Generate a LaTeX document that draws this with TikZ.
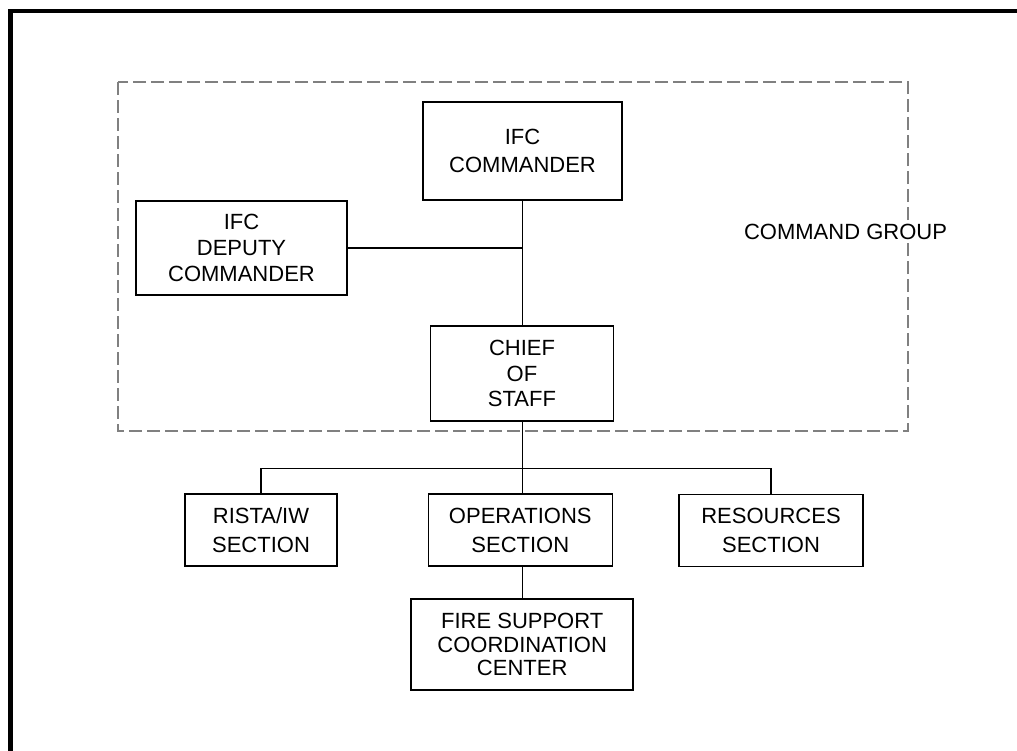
\documentclass[tikz,border=0pt]{standalone}
\usepackage{fontspec}
\setmainfont{Liberation Sans}
\begin{document}
\begin{tikzpicture}[x=0.75pt,y=-0.75pt,
  box/.style={draw=black,line width=1.1pt,inner sep=0pt,align=center,
    font=\fontsize{16.5}{#1}\selectfont},
  link/.style={draw=black,line width=1pt},
  grp/.style={draw=black!50,line width=1.1pt,dash pattern=on 9.75pt off 3.75pt},
  frame/.style={draw=black,line width=3.4pt}]
\useasboundingbox (0,0) rectangle (1017,750);
\clip (0,0) rectangle (1017,750);
\fill[white] (0,0) rectangle (1017,750);
% outer frame
\coordinate (fb) at (10.5,760);
\coordinate (fc) at (10.5,11);
\coordinate (fr) at (1030,11);
\draw[frame] (fb) -- (fc) -- (fr);
% command group
\coordinate (g1) at (118,82);
\coordinate (g2) at (908,431);
\draw[grp] (g1) rectangle (g2);
\node[fill=white,inner sep=2pt,font=\fontsize{16.5}{20}\selectfont] (lbl) at (845.5,232) {COMMAND GROUP};
% boxes
\node[box=21.5pt,minimum width=199*0.75pt,minimum height=98*0.75pt] (cmd) at (522.5,151) {IFC\\COMMANDER};
\node[box=19.7pt,minimum width=211*0.75pt,minimum height=94*0.75pt] (dep) at (241.5,248) {IFC\\DEPUTY\\COMMANDER};
\node[box=19pt,minimum width=183*0.75pt,minimum height=95*0.75pt] (cos) at (522,373.5) {CHIEF\\OF\\STAFF};
\node[box=21.75pt,minimum width=152*0.75pt,minimum height=72*0.75pt] (rista) at (261,530) {RISTA/IW\\SECTION};
\node[box=21.75pt,minimum width=184*0.75pt,minimum height=72*0.75pt] (ops) at (520.3,530) {OPERATIONS\\SECTION};
\node[box=21.75pt,minimum width=184*0.75pt,minimum height=72*0.75pt] (res) at (771,530.5) {RESOURCES\\SECTION};
\node[box=17.6pt,minimum width=222*0.75pt,minimum height=91*0.75pt] (fscc) at (522.2,644.5) {FIRE SUPPORT\\COORDINATION\\CENTER};
% connectors
\coordinate (bus) at (522.5,468.5);
\coordinate (jn) at (522.5,248);
\draw[link] (cmd.south) -- (cos.north -| cmd.south);
\draw[link] (dep.east) -- (jn);
\draw[link] (cos.south -| cmd.south) -- (ops.north -| cmd.south);
\draw[link] (rista.north) |- (bus) -| (res.north);
\draw[link] (ops.south -| cmd.south) -- (fscc.north -| cmd.south);
\end{tikzpicture}
\end{document}
